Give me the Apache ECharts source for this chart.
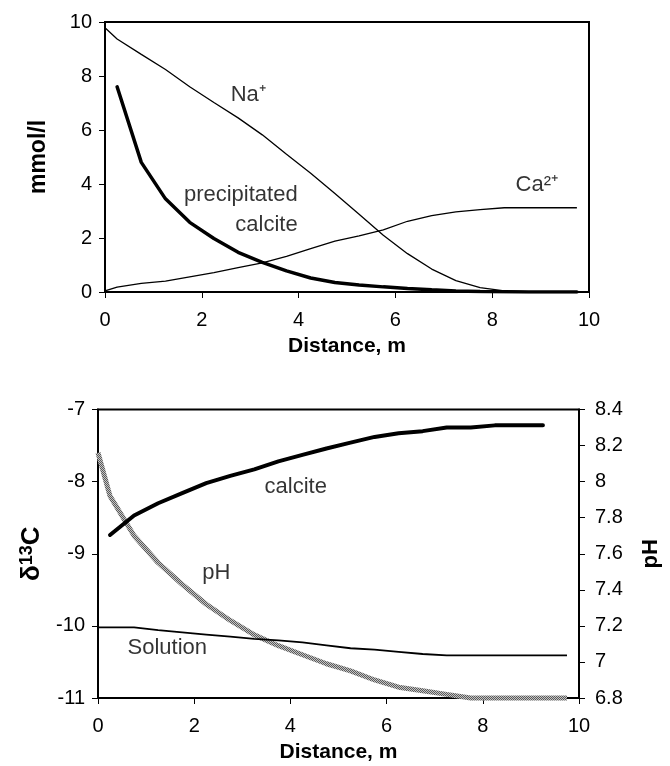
<!DOCTYPE html>
<html>
<head>
<meta charset="utf-8">
<script src="https://cdn.jsdelivr.net/npm/echarts@6/dist/echarts.min.js"></script>
<style>
  html, body { margin: 0; padding: 0; background: #fff; }
  #chart { width: 670px; height: 766px; }
</style>
</head>
<body>
<div id="chart"></div>
<script>
// distances (m)
const distAll = [0, 0.25, 0.75, 1.25, 1.75, 2.25, 2.75, 3.25, 3.75, 4.25, 4.75, 5.25, 5.75, 6.25, 6.75, 7.25, 7.75, 8.25, 8.75, 9.25, 9.75]
const distCalc = [0.25, 0.75, 1.25, 1.75, 2.25, 2.75, 3.25, 3.75, 4.25, 4.75, 5.25, 5.75, 6.25, 6.75, 7.25, 7.75, 8.25, 8.75, 9.25, 9.75]
const distCalc13 = [0.25, 0.75, 1.25, 1.75, 2.25, 2.75, 3.25, 3.75, 4.25, 4.75, 5.25, 5.75, 6.25, 6.75, 7.25, 7.75, 8.25, 8.75, 9.25]

// top panel, mmol/l
const naVals = [9.79, 9.37, 8.8, 8.24, 7.6, 7.02, 6.45, 5.82, 5.1, 4.4, 3.65, 2.88, 2.1, 1.42, 0.85, 0.42, 0.16, 0.04, 0.01, 0, 0]
const caVals = [0.04, 0.18, 0.32, 0.4, 0.56, 0.72, 0.9, 1.08, 1.32, 1.61, 1.88, 2.08, 2.3, 2.62, 2.83, 2.97, 3.05, 3.12, 3.12, 3.12, 3.12]
const calcPrecVals = [7.6, 4.8, 3.45, 2.58, 1.98, 1.47, 1.1, 0.78, 0.52, 0.35, 0.26, 0.19, 0.13, 0.08, 0.04, 0.02, 0.01, 0, 0, 0]

// bottom panel, delta13C and pH
const calc13Vals = [-8.74, -8.47, -8.3, -8.16, -8.02, -7.92, -7.83, -7.72, -7.63, -7.54, -7.46, -7.38, -7.33, -7.3, -7.25, -7.25, -7.22, -7.22, -7.22]
const sol13Vals = [-10.02, -10.02, -10.02, -10.06, -10.09, -10.12, -10.15, -10.18, -10.2, -10.23, -10.27, -10.31, -10.33, -10.36, -10.39, -10.41, -10.41, -10.41, -10.41, -10.41, -10.41]
const phVals = [8.16, 7.92, 7.7, 7.55, 7.43, 7.32, 7.23, 7.15, 7.09, 7.04, 6.99, 6.95, 6.9, 6.86, 6.84, 6.82, 6.8, 6.8, 6.8, 6.8, 6.8]

// curve labels (text + data position)
const topLabels = ['Na⁺', 'Ca²⁺']
const topLabelPos = [[2.96, 7.3], [8.92, 3.96]]
const precLabel = 'precipitated\ncalcite'
const precLabelPos = [3.98, 3.05]
const botLabels = ['calcite', 'pH', 'Solution']
const botLabelPos = [[4.11, -8.07], [2.46, -9.27], [1.44, -10.31]]

const FONT = "'Liberation Sans', Arial, sans-serif"
const TICK_SIZE = 20
const pair = (xs, ys) => ys.map((v, i) => [xs[i], v])

// grey hatched look for the pH line
const makeHatch = () => {
    const c = document.createElement('canvas')
    c.width = 4
    c.height = 4
    const ctx = c.getContext('2d')
    ctx.fillStyle = '#c4c4c4'
    ctx.fillRect(0, 0, 4, 4)
    ctx.fillStyle = '#5a5a5a'
    for (let i = 0; i < 4; i++) {
        ctx.fillRect(i, i, 1, 1)
        ctx.fillRect((i + 2) % 4, i, 1, 1)
    }
    return c
}

const xAxisCommon = {
    type: 'value',
    min: 0,
    max: 10,
    interval: 2,
    name: 'Distance, m',
    nameLocation: 'middle',
    nameGap: 44,
    nameTextStyle: { fontFamily: FONT, fontSize: 21, fontWeight: 'bold', color: '#000', verticalAlign: 'top' },
    axisLine: { lineStyle: { color: '#000', width: 2 } },
    axisTick: { show: true, length: 6, lineStyle: { color: '#000', width: 1 } },
    axisLabel: { fontFamily: FONT, fontSize: TICK_SIZE, color: '#000', margin: 18 },
    splitLine: { show: false }
}

const labelSeries = (gridIdx, names, positions, style) => ({
    type: 'scatter',
    xAxisIndex: gridIdx,
    yAxisIndex: gridIdx === 0 ? 0 : 1,
    symbolSize: 0,
    silent: true,
    z: 10,
    data: names.map((n, i) => ({ name: n, value: positions[i] })),
    label: Object.assign({
        show: true,
        position: 'inside',
        formatter: p => p.name,
        fontFamily: FONT,
        fontSize: 22,
        color: '#000'
    }, style || {})
})

const chart = echarts.init(document.getElementById('chart'))

const option = {
    animation: false,
    backgroundColor: '#fff',
    grid: [
        { left: 105, top: 22, width: 484, height: 270, show: true, borderColor: '#000', borderWidth: 2 },
        { left: 98, top: 409.5, width: 489, height: 288.5, show: true, borderColor: '#000', borderWidth: 2 }
    ],
    xAxis: [
        Object.assign({}, xAxisCommon, { gridIndex: 0 }),
        Object.assign({}, xAxisCommon, { gridIndex: 1 })
    ],
    yAxis: [
        {
            gridIndex: 0,
            type: 'value',
            min: 0,
            max: 10,
            interval: 2,
            name: 'mmol/l',
            nameLocation: 'middle',
            nameRotate: 90,
            nameGap: 55,
            nameTextStyle: { fontFamily: FONT, fontSize: 23, fontWeight: 'bold', color: '#000' },
            axisLine: { show: true, lineStyle: { color: '#000', width: 2 } },
            axisTick: { show: true, length: 6, lineStyle: { color: '#000', width: 1 } },
            axisLabel: { fontFamily: FONT, fontSize: TICK_SIZE, color: '#000', margin: 13 },
            splitLine: { show: false }
        },
        {
            gridIndex: 1,
            type: 'value',
            min: -11,
            max: -7,
            interval: 1,
            name: '{a|δ}{s|13}{a|C}',
            nameLocation: 'middle',
            nameRotate: 90,
            nameGap: 50,
            nameTextStyle: {
                fontFamily: FONT,
                fontWeight: 'bold',
                color: '#000',
                rich: {
                    a: { fontFamily: FONT, fontSize: 26, fontWeight: 'bold', color: '#000', lineHeight: 28 },
                    s: { fontFamily: FONT, fontSize: 18, fontWeight: 'bold', color: '#000', verticalAlign: 'top', lineHeight: 20 }
                }
            },
            axisLine: { show: true, lineStyle: { color: '#000', width: 2 } },
            axisTick: { show: true, length: 6, lineStyle: { color: '#000', width: 1 } },
            axisLabel: { fontFamily: FONT, fontSize: TICK_SIZE, color: '#000', margin: 13 },
            splitLine: { show: false }
        },
        {
            gridIndex: 1,
            type: 'value',
            position: 'right',
            min: 6.8,
            max: 8.4,
            interval: 0.2,
            name: 'pH',
            nameLocation: 'middle',
            nameRotate: 90,
            nameGap: 61,
            nameTextStyle: { fontFamily: FONT, fontSize: 22, fontWeight: 'bold', color: '#000' },
            axisLine: { show: true, lineStyle: { color: '#000', width: 2 } },
            axisTick: { show: true, length: 6, lineStyle: { color: '#000', width: 1 } },
            axisLabel: {
                fontFamily: FONT, fontSize: TICK_SIZE, color: '#000', margin: 16,
                formatter: v => String(+v.toFixed(1))
            },
            splitLine: { show: false }
        }
    ],
    series: [
        {
            name: 'Na+',
            type: 'line',
            xAxisIndex: 0,
            yAxisIndex: 0,
            data: pair(distAll, naVals),
            showSymbol: false,
            lineStyle: { color: '#000', width: 1.3 }
        },
        {
            name: 'Ca2+',
            type: 'line',
            xAxisIndex: 0,
            yAxisIndex: 0,
            data: pair(distAll, caVals),
            showSymbol: false,
            lineStyle: { color: '#000', width: 1.3 }
        },
        {
            name: 'precipitated calcite',
            type: 'line',
            xAxisIndex: 0,
            yAxisIndex: 0,
            data: pair(distCalc, calcPrecVals),
            showSymbol: false,
            lineStyle: { color: '#000', width: 3.5, cap: 'round' }
        },
        {
            name: 'pH',
            type: 'line',
            xAxisIndex: 1,
            yAxisIndex: 2,
            data: pair(distAll, phVals),
            showSymbol: false,
            clip: false,
            lineStyle: { color: { image: makeHatch(), repeat: 'repeat' }, width: 5 }
        },
        {
            name: 'calcite d13C',
            type: 'line',
            xAxisIndex: 1,
            yAxisIndex: 1,
            data: pair(distCalc13, calc13Vals),
            showSymbol: false,
            lineStyle: { color: '#000', width: 4, cap: 'round' }
        },
        {
            name: 'solution d13C',
            type: 'line',
            xAxisIndex: 1,
            yAxisIndex: 1,
            data: pair(distAll, sol13Vals),
            showSymbol: false,
            lineStyle: { color: '#000', width: 1.8 }
        },
        labelSeries(0, topLabels, topLabelPos),
        labelSeries(0, [precLabel], [precLabelPos], { align: 'right', lineHeight: 30, position: 'left', distance: 0 }),
        labelSeries(1, botLabels, botLabelPos)
    ]
}

chart.setOption(option)
</script>
</body>
</html>
